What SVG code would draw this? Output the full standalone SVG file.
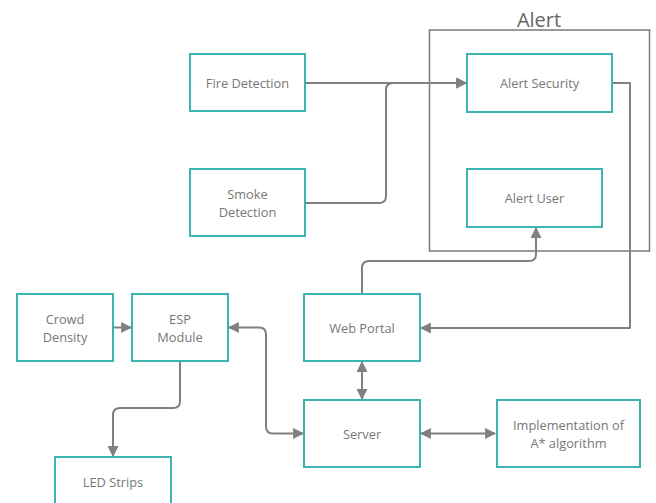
<svg xmlns="http://www.w3.org/2000/svg" width="656" height="503" viewBox="0 0 656 503">
<style>
.n{fill:#fff;stroke:#3cb4b0;stroke-width:2}
.t{font-family:"Open Sans","Noto Sans",sans-serif;font-size:12.8px;fill:#777;text-anchor:middle}
.c{fill:none;stroke:#808080;stroke-width:2;stroke-linejoin:round}
</style>
<defs>
<marker id="ah" viewBox="0 0 10 10" refX="9" refY="5" markerWidth="11" markerHeight="11" markerUnits="userSpaceOnUse" orient="auto-start-reverse">
<path d="M0,0 L10,5 L0,10 z" fill="#808080"/>
</marker>
</defs>
<rect width="656" height="503" fill="#fff"/>
<g id="alert-group">
<rect x="429.5" y="30" width="220" height="221" fill="none" stroke="#7a7a7a" stroke-width="1.5"/>
<text x="539" y="27" font-family="'Open Sans','Noto Sans',sans-serif" font-size="20" fill="#666" text-anchor="middle">Alert</text>
</g>
<g id="connectors">
<path class="c" d="M305,83 H466" marker-end="url(#ah)"/>
<path class="c" d="M305,203 H379 Q386,203 386,196 V90 Q386,83 393,83 H466" marker-end="url(#ah)"/>
<path class="c" d="M612,83 H630 V328 H421" marker-end="url(#ah)"/>
<path class="c" d="M362,294 V268 Q362,261 369,261 H529 Q536,261 536,254 V228" marker-end="url(#ah)"/>
<path class="c" d="M362,362 V399" marker-start="url(#ah)" marker-end="url(#ah)"/>
<path class="c" d="M421,433.5 H495" marker-start="url(#ah)" marker-end="url(#ah)"/>
<path class="c" d="M113,327.5 H131" marker-end="url(#ah)"/>
<path class="c" d="M229,327.5 H259 Q266,327.5 266,334.5 V426.5 Q266,433.5 273,433.5 H303" marker-start="url(#ah)" marker-end="url(#ah)"/>
<path class="c" d="M180,361 V401 Q180,408 173,408 H120 Q113,408 113,415 V456" marker-end="url(#ah)"/>
</g>
<g id="fire"><rect class="n" x="190" y="54" width="115" height="57"/><text class="t" x="247.5" y="87.5">Fire Detection</text></g>
<g id="smoke"><rect class="n" x="190" y="169" width="115" height="67"/><text class="t" x="247.5" y="199">Smoke</text><text class="t" x="247.5" y="217">Detection</text></g>
<g id="alert-security"><rect class="n" x="467" y="54" width="145" height="58"/><text class="t" x="539.5" y="87.5">Alert Security</text></g>
<g id="alert-user"><rect class="n" x="467" y="169" width="135" height="58"/><text class="t" x="534.5" y="203">Alert User</text></g>
<g id="web-portal"><rect class="n" x="304" y="294" width="116" height="67"/><text class="t" x="362" y="332.5">Web Portal</text></g>
<g id="server"><rect class="n" x="304" y="400" width="116" height="67"/><text class="t" x="362" y="438.5">Server</text></g>
<g id="astar"><rect class="n" x="497" y="400" width="143" height="67"/><text class="t" x="568.5" y="430">Implementation of</text><text class="t" x="568.5" y="447.5">A* algorithm</text></g>
<g id="crowd"><rect class="n" x="17" y="294" width="96" height="67"/><text class="t" x="65" y="324">Crowd</text><text class="t" x="65" y="342">Density</text></g>
<g id="esp"><rect class="n" x="132" y="294" width="96" height="67"/><text class="t" x="180" y="324">ESP</text><text class="t" x="180" y="342">Module</text></g>
<g id="led"><rect class="n" x="55" y="457" width="116" height="60"/><text class="t" x="113" y="486.5">LED Strips</text></g>
</svg>
